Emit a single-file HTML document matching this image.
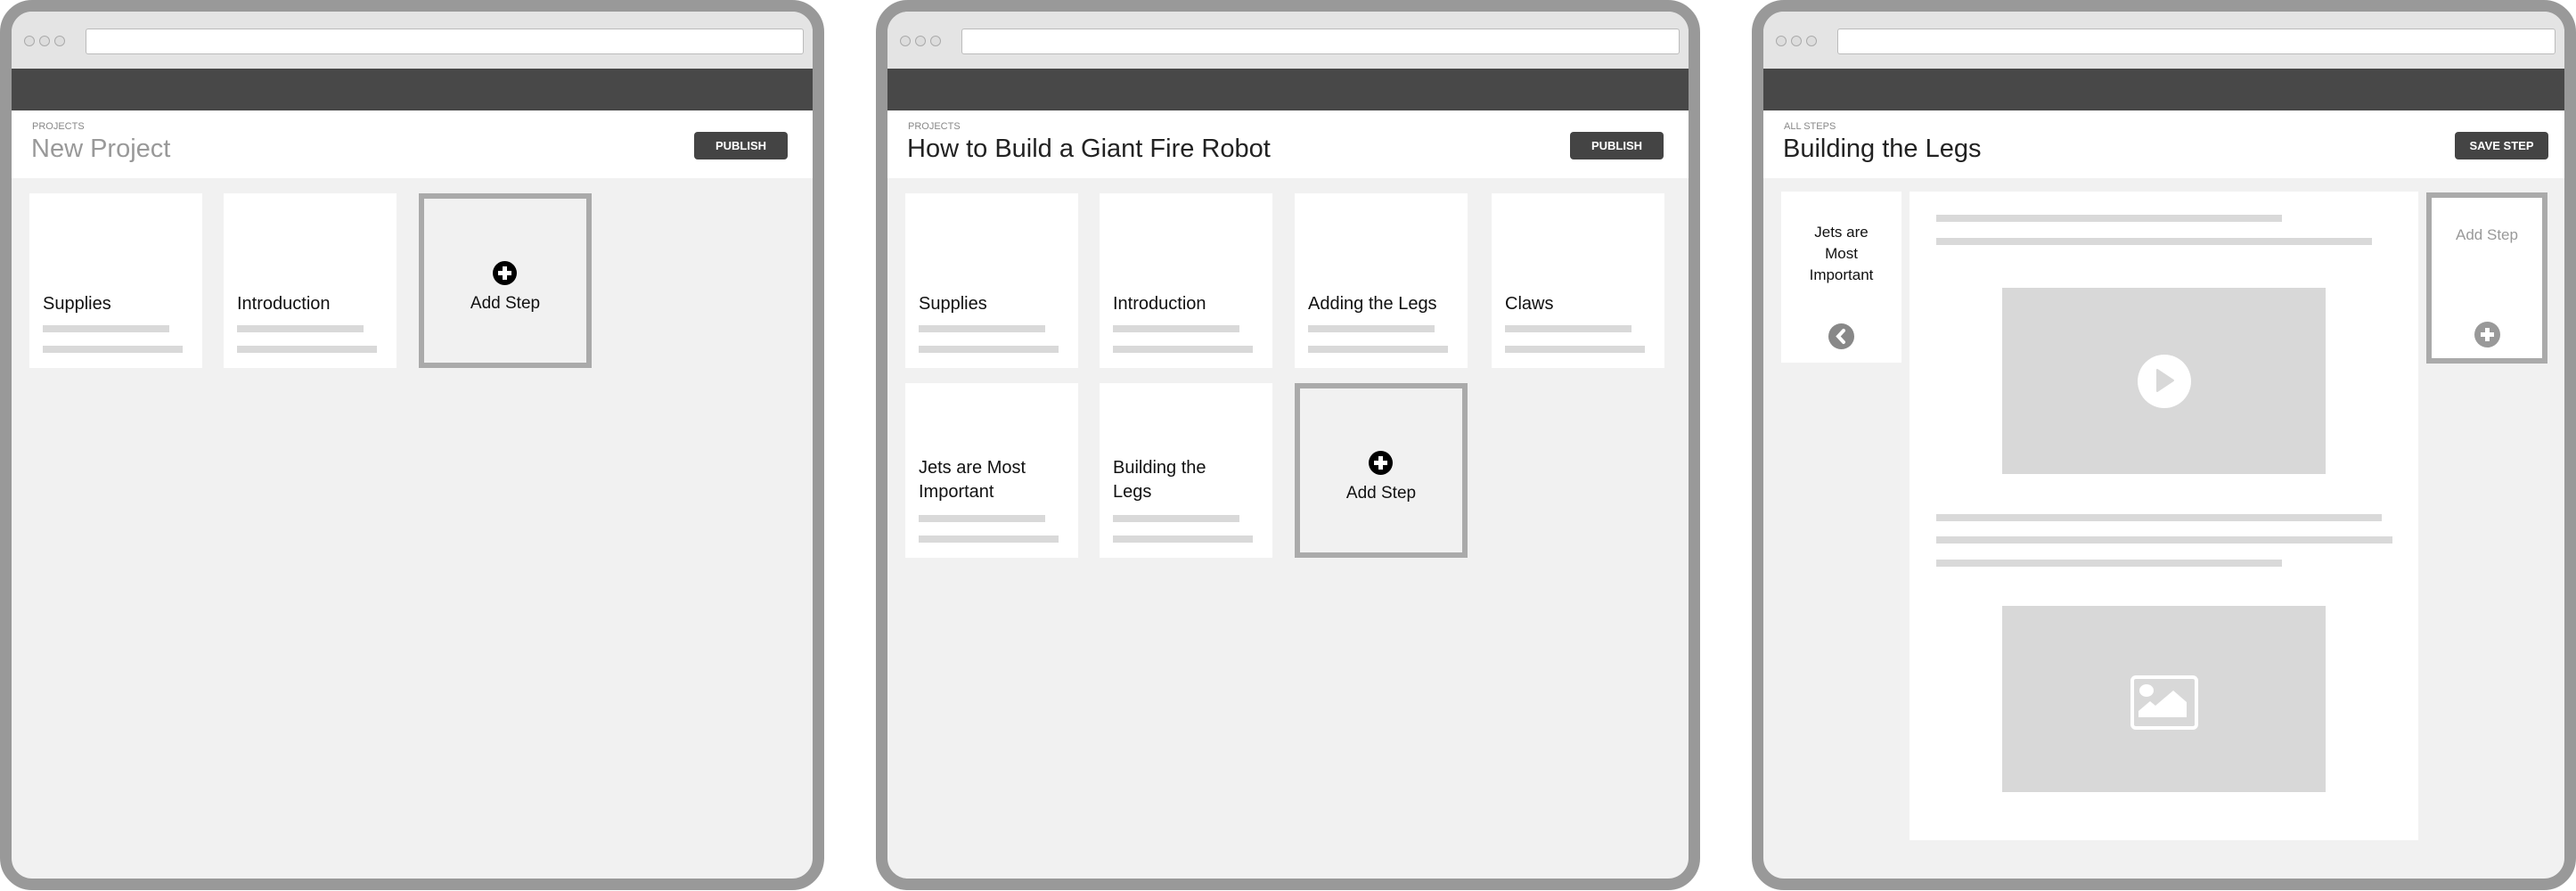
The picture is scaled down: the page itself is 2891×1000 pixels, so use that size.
<!DOCTYPE html>
<html><head><meta charset="utf-8"><style>
*{margin:0;padding:0;box-sizing:border-box}
body{width:2891px;height:1000px;background:#fff;position:relative;overflow:hidden;font-family:"Liberation Sans",Arial,sans-serif}
.p{position:absolute;top:0;width:925px;height:999px;border:13px solid #999;border-radius:36px;background:#f1f1f1;overflow:hidden}
.a{position:absolute}
.tb{left:0;top:0;width:100%;height:64px;background:#e4e4e4}
.addr{left:83px;top:19px;height:29px;right:10px;background:#fff;border:1px solid #bbb;border-radius:3px}
.dot{width:12px;height:12px;border:1.5px solid #aaa;border-radius:50%;top:27px;background:#ddd}
.nav{left:0;top:64px;width:100%;height:47px;background:#484848}
.hd{left:0;top:111px;width:100%;height:76px;background:#fff}
.lab{left:23px;top:123px;font-size:11px;color:#888}
.tt{left:22px;top:138px;font-size:29px;color:#222;white-space:nowrap}
.btn{top:135px;height:31px;background:#444;border-radius:4px;color:#fff;font-size:13px;font-weight:bold;text-align:center;line-height:31px}
.c{background:#fff;width:194px;height:196px}
.c .t{position:absolute;left:15px;top:111px;font-size:20px;color:#111;line-height:27px}
.l1,.l2{position:absolute;left:15px;height:8px;background:#d9d9d9}
.l1{top:148px;width:142px}.l2{top:171px;width:157px}
.add{width:194px;height:196px;border:6px solid #aaa;background:#f1f1f1}
.add .pl{position:absolute;left:77px;top:70px;width:27px;height:27px;border-radius:50%;background:#000}
.pl:before,.pl:after{content:"";position:absolute;background:#fff}
.pl:before{left:6px;top:11px;width:15px;height:5px}
.pl:after{left:11px;top:6px;width:5px;height:15px}
.add .t{position:absolute;width:100%;text-align:center;top:107px;font-size:19px;color:#111}
.g{position:absolute;height:8px;background:#d9d9d9}
</style></head><body>

<!-- Panel 1 -->
<div class="p" style="left:0">
 <div class="a tb"></div>
 <div class="a dot" style="left:14px"></div><div class="a dot" style="left:31px"></div><div class="a dot" style="left:48px"></div>
 <div class="a addr"></div>
 <div class="a nav"></div>
 <div class="a hd"></div>
 <div class="a lab">PROJECTS</div>
 <div class="a tt" style="color:#999">New Project</div>
 <div class="a btn" style="left:766px;width:105px">PUBLISH</div>
 <div class="a c" style="left:20px;top:204px"><div class="t">Supplies</div><div class="l1"></div><div class="l2"></div></div>
 <div class="a c" style="left:238px;top:204px"><div class="t">Introduction</div><div class="l1"></div><div class="l2"></div></div>
 <div class="a add" style="left:457px;top:204px"><div class="pl"></div><div class="t">Add Step</div></div>
</div>

<!-- Panel 2 -->
<div class="p" style="left:983px">
 <div class="a tb"></div>
 <div class="a dot" style="left:14px"></div><div class="a dot" style="left:31px"></div><div class="a dot" style="left:48px"></div>
 <div class="a addr"></div>
 <div class="a nav"></div>
 <div class="a hd"></div>
 <div class="a lab">PROJECTS</div>
 <div class="a tt">How to Build a Giant Fire Robot</div>
 <div class="a btn" style="left:766px;width:105px">PUBLISH</div>
 <div class="a c" style="left:20px;top:204px"><div class="t">Supplies</div><div class="l1"></div><div class="l2"></div></div>
 <div class="a c" style="left:238px;top:204px"><div class="t">Introduction</div><div class="l1"></div><div class="l2"></div></div>
 <div class="a c" style="left:457px;top:204px"><div class="t">Adding the Legs</div><div class="l1"></div><div class="l2"></div></div>
 <div class="a c" style="left:678px;top:204px"><div class="t">Claws</div><div class="l1"></div><div class="l2"></div></div>
 <div class="a c" style="left:20px;top:417px"><div class="t" style="top:82px">Jets are Most<br>Important</div><div class="l1"></div><div class="l2"></div></div>
 <div class="a c" style="left:238px;top:417px"><div class="t" style="top:82px">Building the<br>Legs</div><div class="l1"></div><div class="l2"></div></div>
 <div class="a add" style="left:457px;top:417px"><div class="pl"></div><div class="t">Add Step</div></div>
</div>

<!-- Panel 3 -->
<div class="p" style="left:1966px">
 <div class="a tb"></div>
 <div class="a dot" style="left:14px"></div><div class="a dot" style="left:31px"></div><div class="a dot" style="left:48px"></div>
 <div class="a addr"></div>
 <div class="a nav"></div>
 <div class="a hd"></div>
 <div class="a lab">ALL STEPS</div>
 <div class="a tt">Building the Legs</div>
 <div class="a btn" style="left:776px;width:105px">SAVE STEP</div>
 <div class="a" style="left:20px;top:202px;width:135px;height:192px;background:#fff">
  <div class="a" style="left:0;top:34px;width:100%;text-align:center;font-size:17px;line-height:24px;color:#111">Jets are<br>Most<br>Important</div>
  <div class="a" style="left:53px;top:148px;width:29px;height:29px;border-radius:50%;background:#888"></div>
  <svg class="a" style="left:53px;top:148px" width="29" height="29"><path d="M17 8 L11 14.5 L17 21" stroke="#fff" stroke-width="4" fill="none" stroke-linecap="round"/></svg>
 </div>
 <div class="a" style="left:164px;top:202px;width:571px;height:728px;background:#fff">
  <div class="g" style="left:30px;top:26px;width:388px"></div>
  <div class="g" style="left:30px;top:52px;width:489px"></div>
  <div class="a" style="left:104px;top:108px;width:363px;height:209px;background:#d8d8d8">
   <svg class="a" style="left:151px;top:75px" width="62" height="60"><ellipse cx="31" cy="30" rx="30" ry="30" fill="#fff"/><path d="M23 17 L41 29 L23 41Z" fill="#d8d8d8" stroke="#d8d8d8" stroke-width="2" stroke-linejoin="round"/></svg>
  </div>
  <div class="g" style="left:30px;top:362px;width:500px"></div>
  <div class="g" style="left:30px;top:387px;width:512px"></div>
  <div class="g" style="left:30px;top:413px;width:388px"></div>
  <div class="a" style="left:104px;top:465px;width:363px;height:209px;background:#d8d8d8">
   <svg class="a" style="left:144px;top:78px" width="76" height="61"><rect x="2" y="2" width="72" height="57" rx="4" fill="none" stroke="#fff" stroke-width="4"/><ellipse cx="18" cy="17" rx="8" ry="7" fill="#fff"/><path d="M9 47 L9 40 L22 29 L28 34 L48 17 L63 30 L63 47Z" fill="#fff"/></svg>
  </div>
 </div>
 <div class="a" style="left:744px;top:203px;width:136px;height:192px;border:6px solid #aaa;background:#fff">
  <div class="a" style="left:0;top:32px;width:100%;text-align:center;font-size:17px;color:#999">Add Step</div>
  <div class="a" style="left:48px;top:139px;width:29px;height:29px;border-radius:50%;background:#999"></div>
  <svg class="a" style="left:48px;top:139px" width="29" height="29"><path d="M14.5 7v15M7 14.5h15" stroke="#fff" stroke-width="5"/></svg>
 </div>
</div>

</body></html>
